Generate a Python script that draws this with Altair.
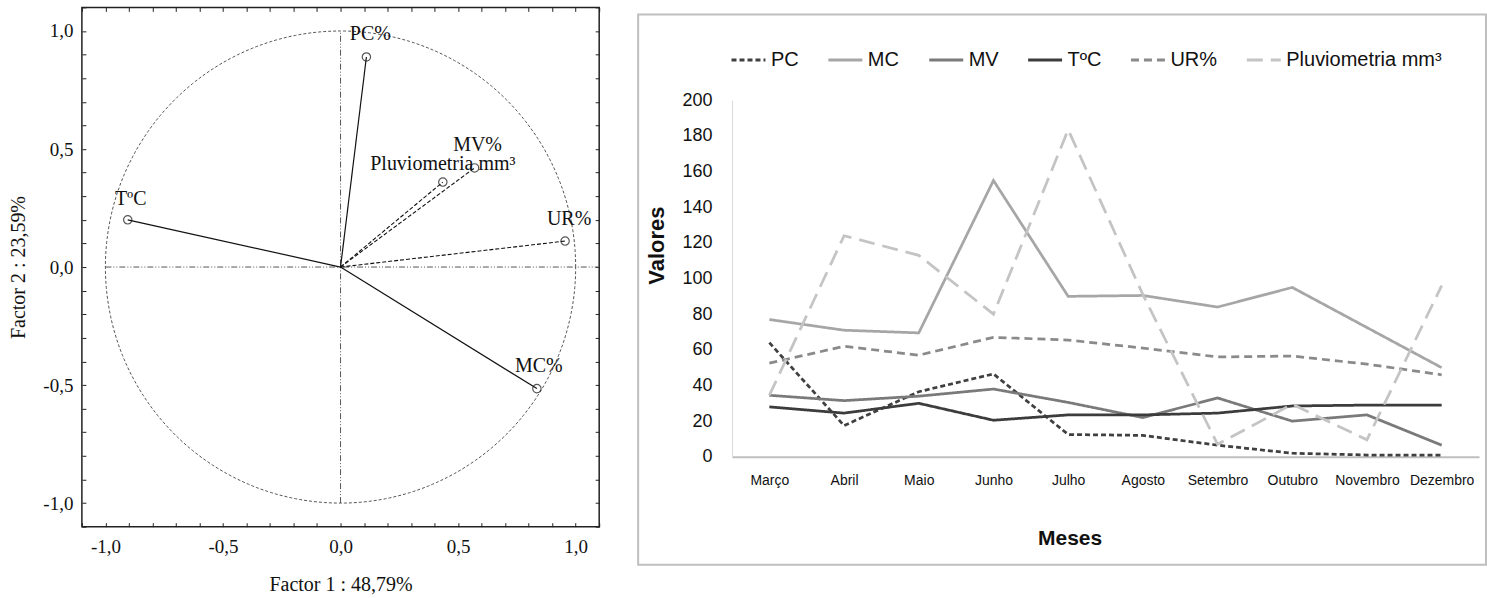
import numpy as np
import pandas as pd
import altair as alt

# ---------------- Left panel: PCA correlation circle ----------------
pca_vars = ["PC%", "MV%", "Pluviometria mm³", "UR%", "TºC", "MC%"]
factor1 = [0.11, 0.57, 0.435, 0.955, -0.905, 0.835]
factor2 = [0.89, 0.42, 0.36, 0.11, 0.20, -0.515]
solid_vars = ["PC%", "TºC", "MC%"]
x_title = "Factor 1 : 48,79%"
y_title = "Factor 2 : 23,59%"

# ---------------- Right panel: monthly series ----------------
months = ["Março", "Abril", "Maio", "Junho", "Julho", "Agosto",
          "Setembro", "Outubro", "Novembro", "Dezembro"]
series_names = ["PC", "MC", "MV", "TºC", "UR%", "Pluviometria mm³"]
pc = [64, 17.5, 36.5, 46.5, 12.5, 12, 6.5, 2, 1, 1]
mc = [77, 71, 69.5, 155, 90, 90.5, 84, 95, 72.5, 50]
mv = [34.5, 31.5, 34, 38, 30.5, 22, 33, 20, 23.5, 6.5]
tc = [28, 24.5, 30, 20.5, 23.5, 23.5, 24.5, 28.5, 29, 29]
ur = [52.5, 62, 57, 67, 65.5, 61, 56, 56.5, 52, 46]
pluv = [34.5, 124, 113, 80, 183.5, 91, 7, 29.5, 9.5, 96]
series_colors = ["#404040", "#A6A6A6", "#7A7A7A", "#3C3C3C", "#8A8A8A", "#C4C4C4"]
series_dash = [[5, 3], [1, 0], [1, 0], [1, 0], [8, 5], [16, 8]]

SERIF = "Liberation Serif"
SANS = "Liberation Sans"

# ---- left data
load_df = pd.DataFrame({"var": pca_vars, "f1": factor1, "f2": factor2})
vec_rows = []
for v, a, b in zip(pca_vars, factor1, factor2):
    vec_rows.append({"var": v, "f1": 0.0, "f2": 0.0, "o": 0})
    vec_rows.append({"var": v, "f1": a, "f2": b, "o": 1})
vec_df = pd.DataFrame(vec_rows)

t = np.linspace(0, 2 * np.pi, 361)
circle_df = pd.DataFrame({"f1": np.cos(t), "f2": np.sin(t), "o": np.arange(361)})

cross_df = pd.DataFrame({"f1": [-1.0, 0.0], "f1b": [1.1, 0.0],
                         "f2": [0.0, -1.0], "f2b": [0.0, 1.0]})

ticks = [round(v, 1) for v in np.arange(-11, 12) / 10]
lab_expr = ("abs(datum.value*2 - round(datum.value*2)) < 0.000001 ? "
            "replace(replace(format(datum.value, '.1f'), '.', ','), '\u2212', '-') : ''")

dom = [-1.1, 1.1]
xs = alt.Scale(domain=dom, nice=False, zero=False)
ys = alt.Scale(domain=dom, nice=False, zero=False)

axis_common = dict(values=ticks, tickSize=4, offset=-4, domain=False, grid=False,
                   tickColor="#222", tickWidth=1, labelFont=SERIF, labelFontSize=19,
                   labelColor="#111", titleFont=SERIF, titleFontSize=20,
                   titleFontWeight="normal", titleColor="#111", labelExpr=lab_expr)

x_bottom = alt.Axis(orient="bottom", title=x_title, labelPadding=11, titlePadding=18,
                    **axis_common)
y_left = alt.Axis(orient="left", title=y_title, labelPadding=9, titlePadding=14,
                  **axis_common)
x_top = alt.Axis(orient="top", title=None, labels=False, values=ticks, tickSize=4,
                 offset=-4, domain=False, grid=False, tickColor="#222")
y_right = alt.Axis(orient="right", title=None, labels=False, values=ticks, tickSize=4,
                   offset=-4, domain=False, grid=False, tickColor="#222")

X0 = lambda: alt.X("f1:Q", scale=xs, axis=None)
Y0 = lambda: alt.Y("f2:Q", scale=ys, axis=None)

circle = alt.Chart(circle_df).mark_line(
    color="#555", strokeWidth=1, strokeDash=[3, 2]
).encode(
    x=alt.X("f1:Q", scale=xs, axis=x_bottom),
    y=alt.Y("f2:Q", scale=ys, axis=y_left),
    order="o:Q",
)

cross_h = alt.Chart(cross_df).transform_filter("datum.f2 == datum.f2b").mark_rule(
    color="#555", strokeWidth=1, strokeDash=[6, 2, 1, 2, 1, 2]
).encode(
    x=alt.X("f1:Q", scale=xs, axis=x_top),
    x2="f1b:Q",
    y=alt.Y("f2:Q", scale=ys, axis=y_right),
)
cross_v = alt.Chart(cross_df).transform_filter("datum.f1 == datum.f1b").mark_rule(
    color="#555", strokeWidth=1, strokeDash=[6, 2, 1, 2, 1, 2]
).encode(x=X0(), y=Y0(), y2="f2b:Q")

solid_filter = alt.FieldOneOfPredicate(field="var", oneOf=solid_vars)
vec_solid = alt.Chart(vec_df).transform_filter(solid_filter).mark_line(
    color="#111", strokeWidth=1.2
).encode(x=X0(), y=Y0(), detail="var:N", order="o:Q")
vec_dash = alt.Chart(vec_df).transform_filter(~solid_filter).mark_line(
    color="#111", strokeWidth=1.1, strokeDash=[4, 2]
).encode(x=X0(), y=Y0(), detail="var:N", order="o:Q")

pts = alt.Chart(load_df).mark_point(
    shape="circle", filled=False, size=70, color="#111", strokeWidth=1.2
).encode(x=X0(), y=Y0())

label_offsets = {"PC%": (4, -23), "MV%": (3, -23), "Pluviometria mm³": (0, -18),
                 "UR%": (4, -22), "TºC": (3, -21), "MC%": (2, -23)}
labels = []
for v in pca_vars:
    dx, dy = label_offsets[v]
    labels.append(
        alt.Chart(load_df).transform_filter(alt.datum.var == v).mark_text(
            font=SERIF, fontSize=20, color="#111", dx=dx, dy=dy
        ).encode(x=X0(), y=Y0(), text="var:N")
    )

left = alt.layer(circle, cross_h, cross_v, vec_solid, vec_dash, pts, *labels).properties(
    width=518, height=520,
    view=alt.ViewBackground(stroke="#222", strokeWidth=1.5),
)

# ---- right data
vals = [pc, mc, mv, tc, ur, pluv]
rows = []
for name, arr in zip(series_names, vals):
    for m, val in zip(months, arr):
        rows.append({"Mes": m, "Serie": name, "Valor": val})
ts_df = pd.DataFrame(rows)

legend_kw = dict(title=None, orient="none", direction="horizontal",
                 legendX=-2, legendY=34, symbolType="stroke",
                 symbolSize=1156, symbolStrokeWidth=3,
                 labelFont=SANS, labelFontSize=20,
                 labelColor="#111", labelOffset=4,
                 columnPadding=23, labelLimit=400)

lines = alt.Chart(ts_df).mark_line(strokeWidth=2.75).encode(
    x=alt.X("Mes:N", sort=months, scale=alt.Scale(type="point", padding=0.5),
            axis=alt.Axis(title="Meses", labelAngle=0, ticks=False, grid=False,
                          domainColor="#BFBFBF", domainWidth=2,
                          labelFont=SANS, labelFontSize=14, labelColor="#111",
                          labelPadding=17, titleFont=SANS, titleFontSize=21,
                          titleFontWeight="bold", titleColor="#111",
                          titlePadding=40, titleX=338)),
    y=alt.Y("Valor:Q", scale=alt.Scale(domain=[0, 200], nice=False, range=[450, 93]),
            axis=alt.Axis(title="Valores", values=list(range(0, 201, 20)), ticks=False,
                          grid=False, domainColor="#D9D9D9", domainWidth=1,
                          labelFont=SANS, labelFontSize=18, labelColor="#111",
                          labelPadding=20, titleFont=SANS, titleFontSize=22,
                          titleFontWeight="bold", titleColor="#111",
                          titleX=-64, titleY=238)),
    color=alt.Color("Serie:N", sort=series_names,
                    scale=alt.Scale(domain=series_names, range=series_colors),
                    legend=alt.Legend(**legend_kw)),
    strokeDash=alt.StrokeDash("Serie:N", sort=series_names,
                              scale=alt.Scale(domain=series_names, range=series_dash),
                              legend=alt.Legend(**legend_kw)),
    order=alt.Order("Serie:N"),
)

frame = alt.Chart(alt.Data(values=[{"k": 1}])).mark_rect(
    fill="transparent", stroke="#BFBFBF", strokeWidth=2
).encode(x=alt.value(-94), x2=alt.value(755), y=alt.value(7), y2=alt.value(558))

right = alt.layer(frame, lines).properties(width=748, height=450)

chart = alt.hconcat(left, right, spacing=36).resolve_legend(
    color="independent", strokeDash="independent"
).properties(
    padding={"left": 8, "top": 5, "right": 0, "bottom": 0},
    background="white",
).configure_view(strokeWidth=0)

chart.save("out.html", embed_options={"renderer": "svg", "actions": False})
